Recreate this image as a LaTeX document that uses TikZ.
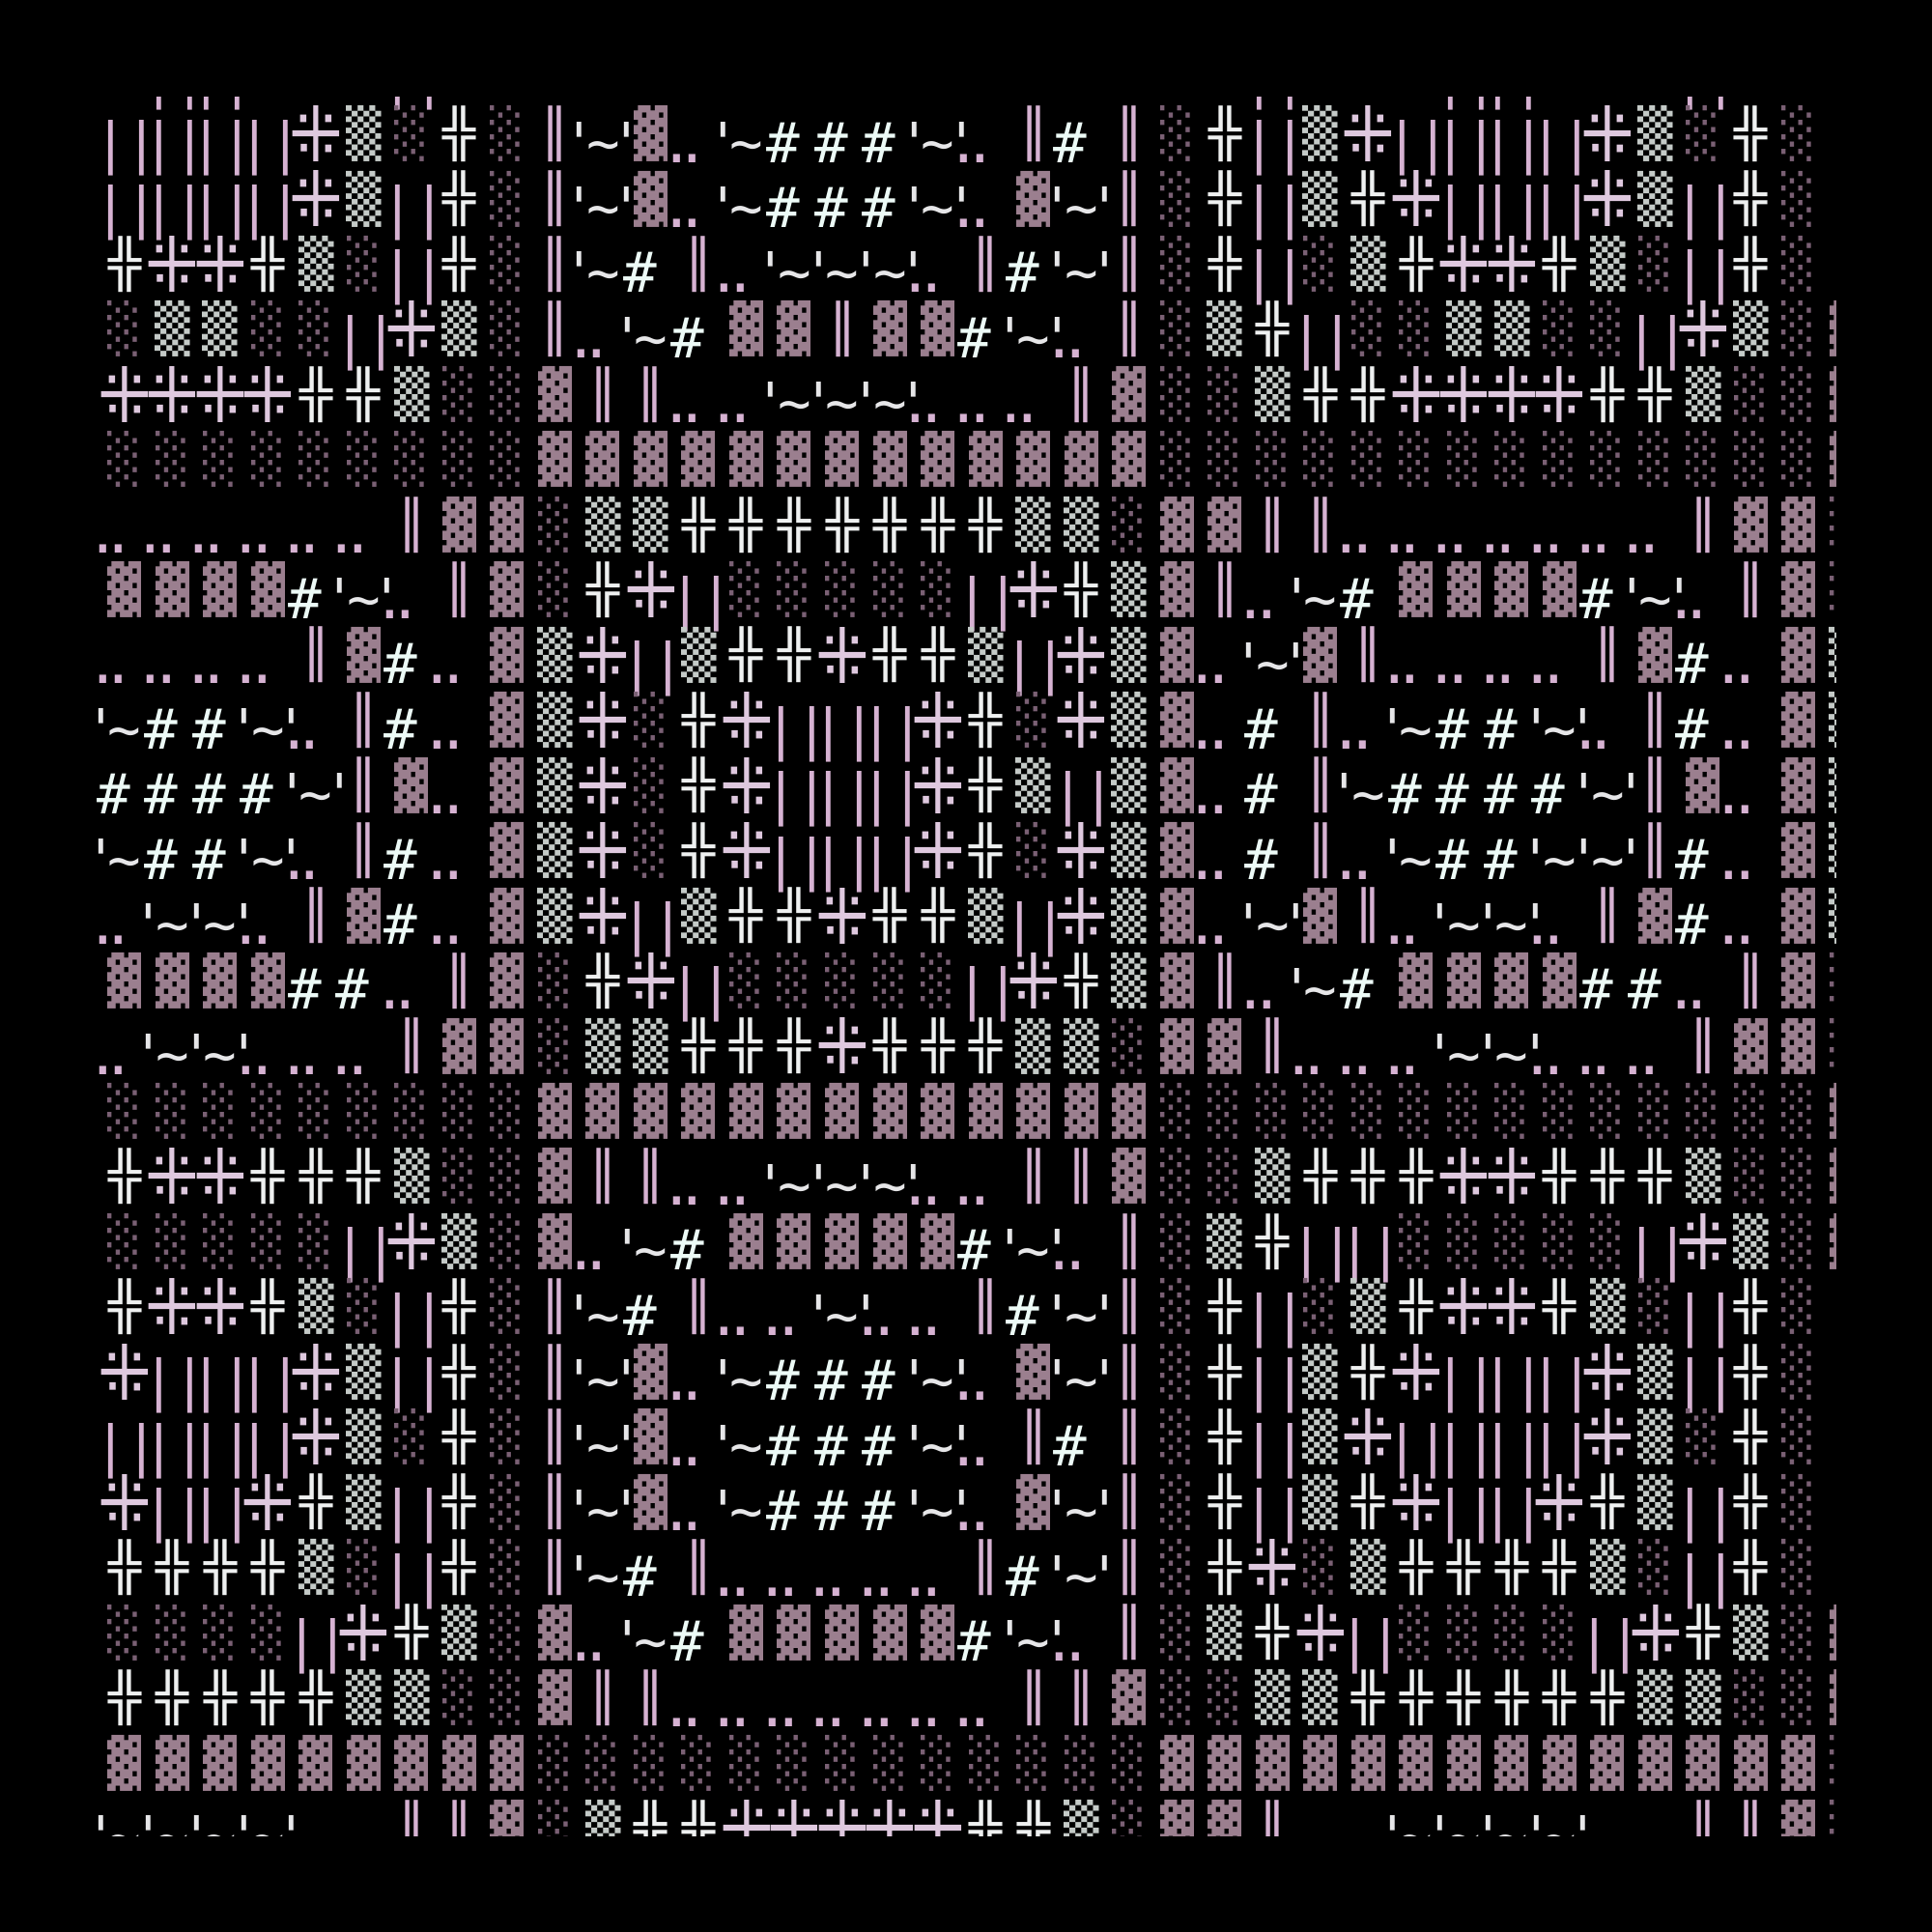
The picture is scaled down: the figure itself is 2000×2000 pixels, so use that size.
\documentclass[tikz,border=0pt]{standalone}
\usepackage{fontspec}
\usepackage{graphicx}
\setmonofont{DejaVu Sans Mono}
\newfontfamily\djs{DejaVu Sans}
\definecolor{pk}{RGB}{214,178,210}
\definecolor{dc}{RGB}{222,200,222}
\definecolor{wx}{RGB}{238,240,240}
\definecolor{wm}{RGB}{196,202,199}
\definecolor{lt}{RGB}{122,96,116}
\definecolor{dk}{RGB}{155,127,143}
\definecolor{hs}{RGB}{236,250,246}
\definecolor{tl}{RGB}{230,230,232}
\newif\ifdcsans
\newif\ifdcmono
\newif\iftwodot
\begingroup\djs\iffontchar\font"205C \global\dcsanstrue\fi\endgroup
\begingroup\ttfamily\iffontchar\font"205C \global\dcmonotrue\fi\endgroup
\begingroup\ttfamily\iffontchar\font"2025 \global\twodottrue\fi\endgroup
\tikzset{
  gl/.style={inner sep=0pt, outer sep=0pt, anchor=center, font=\ttfamily},
  tx/.style={inner sep=0pt, outer sep=0pt, anchor=base, font=\ttfamily\fontsize{57.6pt}{60pt}\selectfont},
}
\newcommand\tknO{}
\newcommand\tknV{\node[gl,text=pk] at (\X,\Y) {\resizebox*{34pt}{58pt}{\char"2551}};}
\newcommand\tknX{\node[gl,text=wx] at (\X,\Y) {\resizebox*{34pt}{58pt}{\char"256C}};}
\newcommand\tknM{\node[gl,text=wm] at (\X,\Y) {\resizebox*{36.5pt}{58pt}{\char"2592}};}
\newcommand\tknL{\node[gl,text=lt] at (\X,\Y) {\resizebox*{35pt}{58pt}{\char"2591}};}
\newcommand\tknH{\node[gl,text=dk] at (\X,\Y) {\resizebox*{35pt}{58pt}{\char"2593}};}
\newcommand\tknD{%
  \ifdcsans
    \node[gl,text=dc] at (\X,\Y) {\djs\resizebox*{55.7pt}{58pt}{\char"205C}};%
  \else\ifdcmono
    \node[gl,text=dc] at (\X,\Y) {\resizebox*{55.7pt}{58pt}{\char"205C}};%
  \else
    \fill[dc,shift={(\X,\Y)}] (-2.5,-29) rectangle (2.5,29) (-27.85,-2.5) rectangle (27.85,2.5)
      (-12.8,-13.3) circle[radius=4.7] (12.8,-13.3) circle[radius=4.7]
      (-12.8,13.3) circle[radius=4.7] (12.8,13.3) circle[radius=4.7];%
  \fi\fi}
\newcommand\tknP{\node[tx,text=pk] at (\X+2,\Bl) {\char"7C\kern-2.7pt\char"7C};}
\newcommand\tknS{\node[tx,text=hs] at (\X-11.5,\Bl) {\char"23};}
\newcommand\tknA{\node[tx,text=tl] at (\X,\Bl) {\char"27\kern-10.2pt\char"7E\kern-10.2pt\char"27};}
\newcommand\tknB{\node[tx,text=tl] at (\X-12.25,\Bl) {\char"27\kern-10.2pt\char"7E};}
\newcommand\tknT{\iftwodot\node[tx,text=pk] at (\X-14.5,\Bl) {\char"2025};\else\node[tx,text=pk] at (\X-14.5,\Bl) {.\kern-18pt.};\fi}
\begin{document}
\begin{tikzpicture}[x=1pt,y=-1pt]
\useasboundingbox (0,0) rectangle (2000,2000);
\fill[black] (0,0) rectangle (2000,2000);
\begin{scope}
\clip (100,100) rectangle (1900,1900);
\foreach \rowlist [count=\r from -1] in {{D,P,P,D,X,M,P,X,L,V,A,H,T,B,S,S,S,A,T,H,A,V,L,X,P,M,X,D,P,P,D,X,M,P,X,L,V},
{P,P,P,P,D,M,L,X,L,V,A,H,T,B,S,S,S,A,T,V,S,V,L,X,P,M,D,P,P,P,P,D,M,L,X,L,V},
{P,P,P,P,D,M,P,X,L,V,A,H,T,B,S,S,S,A,T,H,A,V,L,X,P,M,X,D,P,P,P,D,M,P,X,L,V},
{X,D,D,X,M,L,P,X,L,V,B,S,V,T,B,B,A,T,V,S,A,V,L,X,P,L,M,X,D,D,X,M,L,P,X,L,V},
{L,M,M,L,L,P,D,M,L,V,T,B,S,H,H,V,H,H,S,A,T,V,L,M,X,P,L,L,M,M,L,L,P,D,M,L,H},
{D,D,D,D,X,X,M,L,L,H,V,V,T,T,B,B,A,T,T,T,V,H,L,L,M,X,X,D,D,D,D,X,X,M,L,L,H},
{L,L,L,L,L,L,L,L,L,H,H,H,H,H,H,H,H,H,H,H,H,H,L,L,L,L,L,L,L,L,L,L,L,L,L,L,H},
{T,T,T,T,T,T,V,H,H,L,M,M,X,X,X,X,X,X,X,M,M,L,H,H,V,V,T,T,T,T,T,T,T,V,H,H,L},
{H,H,H,H,S,A,T,V,H,L,X,D,P,L,L,L,L,L,P,D,X,M,H,V,T,B,S,H,H,H,H,S,A,T,V,H,L},
{T,T,T,T,V,H,S,T,H,M,D,P,M,X,X,D,X,X,M,P,D,M,H,T,A,H,V,T,T,T,T,V,H,S,T,H,M},
{B,S,S,A,T,V,S,T,H,M,D,L,X,D,P,P,P,D,X,L,D,M,H,T,S,V,T,B,S,S,A,T,V,S,T,H,M},
{S,S,S,S,A,V,H,T,H,M,D,L,X,D,P,P,P,D,X,M,P,M,H,T,S,V,B,S,S,S,S,A,V,H,T,H,M},
{B,S,S,A,T,V,S,T,H,M,D,L,X,D,P,P,P,D,X,L,D,M,H,T,S,V,T,B,S,S,B,A,V,S,T,H,M},
{T,B,A,T,V,H,S,T,H,M,D,P,M,X,X,D,X,X,M,P,D,M,H,T,A,H,V,T,B,A,T,V,H,S,T,H,M},
{H,H,H,H,S,S,T,V,H,L,X,D,P,L,L,L,L,L,P,D,X,M,H,V,T,B,S,H,H,H,H,S,S,T,V,H,L},
{T,B,A,T,T,T,V,H,H,L,M,M,X,X,X,D,X,X,X,M,M,L,H,H,V,T,T,T,B,A,T,T,T,V,H,H,L},
{L,L,L,L,L,L,L,L,L,H,H,H,H,H,H,H,H,H,H,H,H,H,L,L,L,L,L,L,L,L,L,L,L,L,L,L,H},
{X,D,D,X,X,X,M,L,L,H,V,V,T,T,B,B,A,T,T,V,V,H,L,L,M,X,X,X,D,D,X,X,X,M,L,L,H},
{L,L,L,L,L,P,D,M,L,H,T,B,S,H,H,H,H,H,S,A,T,V,L,M,X,P,P,L,L,L,L,L,P,D,M,L,H},
{X,D,D,X,M,L,P,X,L,V,B,S,V,T,T,A,T,T,V,S,A,V,L,X,P,L,M,X,D,D,X,M,L,P,X,L,V},
{D,P,P,P,D,M,P,X,L,V,A,H,T,B,S,S,S,A,T,H,A,V,L,X,P,M,X,D,P,P,P,D,M,P,X,L,V},
{P,P,P,P,D,M,L,X,L,V,A,H,T,B,S,S,S,A,T,V,S,V,L,X,P,M,D,P,P,P,P,D,M,L,X,L,V},
{D,P,P,D,X,M,P,X,L,V,A,H,T,B,S,S,S,A,T,H,A,V,L,X,P,M,X,D,P,P,D,X,M,P,X,L,V},
{X,X,X,X,M,L,P,X,L,V,B,S,V,T,T,T,T,T,V,S,A,V,L,X,D,L,M,X,X,X,X,M,L,P,X,L,V},
{L,L,L,L,P,D,X,M,L,H,T,B,S,H,H,H,H,H,S,A,T,V,L,M,X,D,P,L,L,L,L,P,D,X,M,L,H},
{X,X,X,X,X,M,M,L,L,H,V,V,T,T,T,T,T,T,T,V,V,H,L,L,M,M,X,X,X,X,X,X,M,M,L,L,H},
{H,H,H,H,H,H,H,H,H,L,L,L,L,L,L,L,L,L,L,L,L,L,H,H,H,H,H,H,H,H,H,H,H,H,H,H,L},
{B,B,B,A,O,O,V,V,H,L,M,X,X,D,D,D,D,D,X,X,M,L,H,H,V,O,O,B,B,B,A,O,O,V,V,H,L}}{%
  \foreach \t [count=\k from 0] in \rowlist {%
    \pgfmathsetmacro\X{129.2+49.52*\k}%
    \pgfmathsetmacro\Y{138.5+67.46*\r}%
    \pgfmathsetmacro\Bl{\Y+29.5}%
    \csname tkn\t\endcsname
  }%
}
\end{scope}
\end{tikzpicture}
\end{document}
